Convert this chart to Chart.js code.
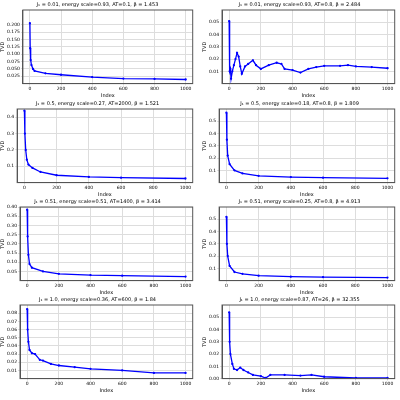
<!DOCTYPE html><html><head><script src="https://cdn.jsdelivr.net/npm/chart.js"></script>
<style>body{margin:0;background:#fff;width:400px;height:400px;position:relative;overflow:hidden}.c{position:absolute;width:198px;height:99px}</style></head><body>
<div class="c" style="left:0;top:0"><canvas id="c0"></canvas></div>
<div class="c" style="left:202px;top:0"><canvas id="c1"></canvas></div>
<div class="c" style="left:0;top:99px"><canvas id="c2"></canvas></div>
<div class="c" style="left:202px;top:99px"><canvas id="c3"></canvas></div>
<div class="c" style="left:0;top:197px"><canvas id="c4"></canvas></div>
<div class="c" style="left:202px;top:197px"><canvas id="c5"></canvas></div>
<div class="c" style="left:0;top:295px"><canvas id="c6"></canvas></div>
<div class="c" style="left:202px;top:295px"><canvas id="c7"></canvas></div>
<script>
const titles=["J₁ = 0.01, energy scale=0.93, AT=0.1, β = 1.453","J₁ = 0.01, energy scale=0.93, AT=0.8, β = 2.484","J₁ = 0.5, energy scale=0.27, AT=2000, β = 1.521","J₁ = 0.5, energy scale=0.18, AT=0.8, β = 1.809","J₁ = 0.51, energy scale=0.51, AT=1400, β = 3.414","J₁ = 0.51, energy scale=0.25, AT=0.8, β = 4.913","J₁ = 1.0, energy scale=0.36, AT=600, β = 1.84","J₁ = 1.0, energy scale=0.87, AT=26, β = 32.355"];
const x0=[0,2,5,10,20,30,100,200,400,600,800,1000];
const y0=[0.205,0.12,0.08,0.063,0.05,0.043,0.035,0.03,0.022,0.017,0.016,0.014];
const x1=[0,3,8,12,20,30,40,50,60,70,80,100,120,150,170,200,250,300,330,350,400,450,500,550,600,700,750,800,900,1000];
const y1=[0.051,0.01,0.012,0.004,0.01,0.015,0.02,0.025,0.022,0.014,0.008,0.014,0.016,0.019,0.015,0.012,0.015,0.017,0.016,0.012,0.011,0.009,0.012,0.0135,0.0145,0.0145,0.015,0.014,0.0135,0.0125];
const x2=[0,3,8,15,25,50,100,200,400,600,1000];
const y2=[0.44,0.3,0.2,0.14,0.11,0.09,0.065,0.045,0.035,0.03,0.025];
const x3=[0,3,8,20,50,100,200,400,600,1000];
const y3=[0.57,0.35,0.22,0.15,0.1,0.075,0.055,0.045,0.04,0.035];
const x4=[0,3,8,15,30,100,200,400,600,1000];
const y4=[0.385,0.24,0.14,0.09,0.07,0.05,0.037,0.03,0.027,0.022];
const x5=[0,3,8,20,50,100,200,400,600,1000];
const y5=[0.52,0.3,0.2,0.12,0.07,0.055,0.04,0.032,0.028,0.025];
const x6=[0,3,8,15,30,50,80,100,150,200,300,400,600,800,1000];
const y6=[0.085,0.06,0.045,0.035,0.031,0.03,0.023,0.022,0.018,0.016,0.014,0.012,0.010,0.007,0.007];
const x7=[0,3,8,20,30,50,70,90,120,150,200,230,260,350,450,520,600,800,1000];
const y7=[0.054,0.03,0.02,0.012,0.008,0.007,0.009,0.007,0.005,0.003,0.002,0.0005,0.003,0.003,0.0025,0.003,0.0015,0.0005,0.0005];
const X=[x0,x1,x2,x3,x4,x5,x6,x7],Y=[y0,y1,y2,y3,y4,y5,y6,y7];
const yt=[[0.025,0.2,0.025,3],[0.01,0.05,0.01,2],[0.1,0.4,0.1,1],[0.1,0.5,0.1,1],[0.05,0.4,0.05,2],[0.1,0.5,0.1,1],[0.01,0.08,0.01,2],[0,0.05,0.01,2]];
const f="DejaVu Sans";
const frame={id:'frame',afterDraw(c){const a=c.chartArea,x=c.ctx;x.save();x.strokeStyle='#555';x.lineWidth=1;x.strokeRect(a.left,a.top,a.right-a.left,a.bottom-a.top);x.restore();}};
for(let i=0;i<8;i++){
 const t=yt[i];
 new Chart(document.getElementById('c'+i),{type:'line',plugins:[frame],data:{datasets:[{data:X[i].map((x,k)=>({x,y:Y[i][k]})),borderColor:'#0000ff',backgroundColor:'#0000ff',borderWidth:1.3,pointRadius:0.5,tension:0}]},
 options:{animation:false,responsive:true,maintainAspectRatio:false,layout:{padding:{right:3}},
 plugins:{legend:{display:false},tooltip:{enabled:false},title:{display:true,text:titles[i],font:{family:f,size:5,weight:'normal'},color:'#000',padding:{top:2,bottom:2}}},
 scales:{x:{type:'linear',min:-45,max:1045,afterBuildTicks:a=>{a.ticks=[0,200,400,600,800,1000].map(v=>({value:v}))},ticks:{font:{family:f,size:4.5},color:'#000',padding:1,maxRotation:0,callback:v=>String(v)},grid:{color:'#ddd',tickLength:2},border:{color:'#555'},title:{display:true,text:'Index',font:{family:f,size:5},padding:0,color:'#000'}},
 y:{afterBuildTicks:a=>{const r=[];for(let v=t[0];v<=t[1]+1e-9;v+=t[2])r.push({value:+v.toFixed(4)});a.ticks=r},ticks:{font:{family:f,size:4.5},color:'#000',padding:1,callback:v=>v.toFixed(t[3])},grid:{color:'#ddd',tickLength:2},border:{color:'#555'},title:{display:true,text:'TVD',font:{family:f,size:5},padding:0,color:'#000'}}}}});
}
</script></body></html>
